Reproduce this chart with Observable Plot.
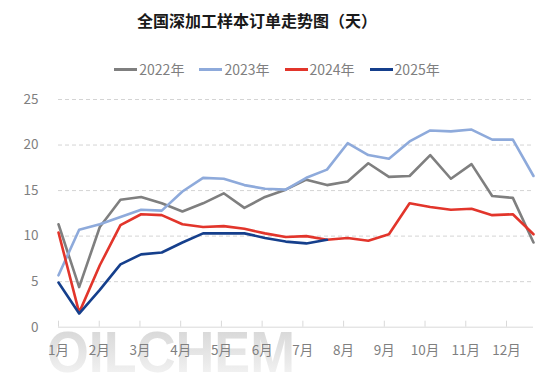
<!DOCTYPE html>
<html><head><meta charset="utf-8">
<script src="https://cdn.jsdelivr.net/npm/d3@7"></script>
<script src="https://cdn.jsdelivr.net/npm/@observablehq/plot@0.6"></script>
<style>
body{margin:0;background:#fff;font-family:"Noto Sans CJK SC","Noto Sans",sans-serif;}
#wrap{position:relative;width:554px;height:378px;overflow:hidden;background:#fff;}
#title{position:absolute;left:0;top:8px;width:514px;text-align:center;font-size:16px;font-weight:bold;color:#1a1a1a;line-height:24px;}
#legend{position:absolute;left:0;top:59px;width:554px;display:flex;justify-content:center;gap:15px;font-size:14px;color:#7f7f7f;line-height:20px;}
.item{display:flex;align-items:center;gap:2px}
.sw{width:23px;height:3px}
#chart{position:absolute;left:0;top:80px;}
</style></head>
<body>
<div id="wrap">
  <div id="title">全国深加工样本订单走势图（天）</div>
  <div id="legend"></div>
  <div id="chart"></div>
</div>
<script>
const years = ["2022年", "2023年", "2024年", "2025年"];
const colors = ["#7f7f7f", "#8eaadb", "#e2352b", "#153f8c"];
const months = ["1月","2月","3月","4月","5月","6月","7月","8月","9月","10月","11月","12月"];
const yTicks = [5, 10, 15, 20, 25];
const v2022 = [11.3, 4.4, 11.0, 14.0, 14.3, 13.6, 12.7, 13.6, 14.7, 13.1, 14.3, 15.1, 16.2, 15.6, 16.0, 18.0, 16.5, 16.6, 18.9, 16.3, 17.9, 14.4, 14.2, 9.3];
const v2023 = [5.7, 10.7, 11.3, 12.1, 12.9, 12.8, 14.9, 16.4, 16.3, 15.6, 15.2, 15.1, 16.4, 17.3, 20.2, 18.9, 18.5, 20.4, 21.6, 21.5, 21.7, 20.6, 20.6, 16.6];
const v2024 = [10.4, 1.6, 6.8, 11.2, 12.4, 12.3, 11.3, 11.0, 11.1, 10.8, 10.3, 9.9, 10.0, 9.6, 9.8, 9.5, 10.2, 13.6, 13.2, 12.9, 13.0, 12.3, 12.4, 10.2];
const v2025 = [4.9, 1.5, 4.1, 6.9, 8.0, 8.2, 9.3, 10.3, 10.3, 10.3, 9.8, 9.4, 9.2, 9.6];

const series = [v2022, v2023, v2024, v2025];
const data = [];
years.forEach((y, s) => series[s].forEach((v, i) => data.push({year: y, i, v})));

// month tick positions on the 24-period index axis
const monthStep = 23 / 11.663;
const tickPos = months.map((m, k) => k * monthStep);
const labelOf = new Map(tickPos.map((p, k) => [p, months[k]]));

// legend
const lg = document.getElementById("legend");
years.forEach((y, s) => {
  const it = document.createElement("div"); it.className = "item";
  const sw = document.createElement("div"); sw.className = "sw"; sw.style.background = colors[s];
  const tx = document.createElement("span"); tx.textContent = y;
  it.appendChild(sw); it.appendChild(tx); lg.appendChild(it);
});

const font = '"Noto Sans CJK SC","Noto Sans",sans-serif';
const chart = Plot.plot({
  width: 554, height: 298,
  marginLeft: 58, marginRight: 21, marginTop: 19, marginBottom: 51.3,
  x: {domain: [0, 23]},
  y: {domain: [0, 25]},
  color: {domain: years, range: colors},
  style: {fontFamily: font, fontSize: "13.5px", color: "#7f7f7f", background: "transparent"},
  marks: [
    Plot.gridY(yTicks, {stroke: "#d4d4d4", strokeOpacity: 1, strokeDasharray: "4,3"}),
    Plot.axisY([0, ...yTicks], {tickSize: 0, tickPadding: 20, fill: "#7f7f7f", label: null}),
    Plot.ruleY([0], {stroke: "#d9d9d9"}),
    Plot.axisX(tickPos, {tickSize: -6, stroke: "#d9d9d9", text: null, label: null}),
    Plot.axisX(tickPos, {tickSize: 0, tickPadding: 18, fill: "#7f7f7f", label: null, tickFormat: d => labelOf.get(d)}),
    Plot.line(data, {x: "i", y: "v", z: "year", stroke: "year", strokeWidth: 2.6, strokeLinejoin: "round"})
  ]
});

// watermark
const svg = d3.select(chart);
const defs = svg.insert("defs", ":first-child");
const grad = defs.append("linearGradient").attr("id", "wm").attr("x1", 0).attr("y1", 0).attr("x2", 0).attr("y2", 1);
grad.append("stop").attr("offset", "0%").attr("stop-color", "#d2d2d2");
grad.append("stop").attr("offset", "100%").attr("stop-color", "#f7f7f7");
svg.insert("text", "defs + *")
  .attr("x", 47).attr("y", 292)
  .attr("text-anchor", "start")
  .attr("textLength", 248).attr("lengthAdjust", "spacingAndGlyphs")
  .attr("font-family", '"Liberation Sans", Arial, sans-serif')
  .attr("font-weight", "bold").attr("font-size", 58)
  .attr("fill", "url(#wm)")
  .text("OILCHEM");

document.getElementById("chart").appendChild(chart);
</script>
</body></html>
